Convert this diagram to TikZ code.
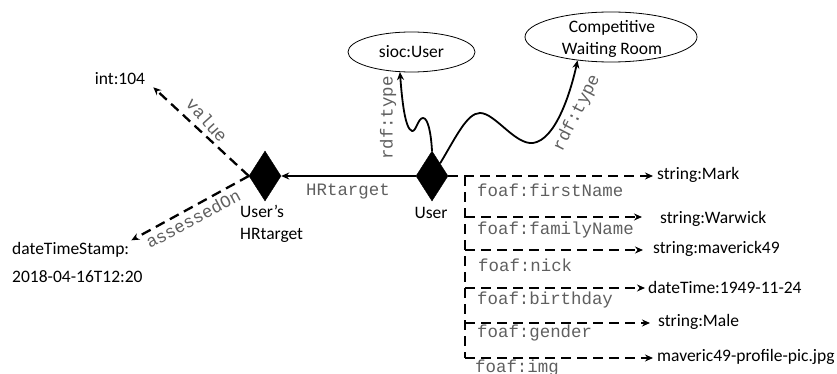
\documentclass[tikz,border=0pt]{standalone}
\usepackage{fontspec}
\setmainfont{Carlito}
\setmonofont{Liberation Mono}
\usetikzlibrary{shapes.geometric,arrows.meta}
\definecolor{propgrey}{RGB}{95,95,95}

\begin{document}
\begin{tikzpicture}[x=1pt,y=-1pt,
  every node/.style={font=\fontsize{17.5}{22}\selectfont, inner sep=2pt},
  prop/.style={font=\fontsize{17.4}{20}\selectfont\ttfamily, text=propgrey, inner sep=0pt},
  hub/.style={diamond, fill=black, draw=black, minimum width=32pt, minimum height=50pt, inner sep=0pt},
  cls/.style={ellipse, draw, line width=0.8pt, inner sep=0pt},
  link/.style={line width=1.8pt, -{Stealth[length=8pt,width=7pt]}},
  dlink/.style={link, line width=2.3pt, dash pattern=on 10pt off 6pt},
  trunk/.style={line width=2.3pt, dash pattern=on 10pt off 6pt},
]
\useasboundingbox (0,0) rectangle (837,374);

% resources
\node[hub] (user) at (432,176) {};
\node at (431,213) {User};
\node[hub] (hr) at (265,176) {};
\node[align=left, anchor=west] (hrlab) at (238,224) {User’s\\HRtarget};

% classes
\node[cls, minimum width=127pt, minimum height=40pt] (sioc) at (411.5,52) {sioc:User};
\node[cls, minimum width=172pt, minimum height=50pt] (cwr) at (611,37) {};
\node[align=center] (cwrtext) at (612,39) {Competitive\\Waiting Room};

% literals
\node (int) at (120,79) {int:104};
\node[anchor=west] (dts) at (10,250) {dateTimeStamp:};
\node[anchor=west] (dtsval) at (10,277) {2018-04-16T12:20};

\node[anchor=west] (t1) at (655,175) {string:Mark};
\node[anchor=west] (t2) at (658,219) {string:Warwick};
\node[anchor=west] (t3) at (651,249) {string:maverick49};
\node[anchor=west] (t4) at (646,287) {dateTime:1949-11-24};
\node[anchor=west] (t5) at (656,322) {string:Male};
\node[anchor=west] (t6) at (655,357) {maveric49-profile-pic.jpg};

% rdf:type links
\draw[link] (user.north) .. controls (431,133) and (428,118) .. (423,118)
  .. controls (418,118) and (416,132) .. (412,131)
  .. controls (405,129) and (402,100) .. (sioc.240);
\draw[link] (user.north east) .. controls (456,137) and (467,113) .. (480,113)
  .. controls (495,113) and (515,145) .. (533,143)
  .. controls (555,140) and (570,95) .. (cwr.215);
\node[prop, rotate=90] at (388,118) {rdf:type};
\node[prop, rotate=63] at (577,113) {rdf:type};

% HRtarget link
\draw[link] (user.west) -- (hr.east);
\node[prop] at (348,192) {HRtarget};

% target properties
\draw[dlink] (hr.west) -- ([xshift=6pt]int.south east);
\node[prop, rotate=-48] at (207,120) {value};
\draw[dlink] (hr.west) -- (dts.north east);
\node[prop, rotate=28] at (193,219) {assessedOn};

% user profile properties
\coordinate (j1) at (465,176);
\coordinate (j2) at (465,217);
\coordinate (j3) at (465,250);
\coordinate (j4) at (465,288);
\coordinate (j5) at (465,323);
\coordinate (j6) at (465,358);
\draw[trunk] (j1) -- (j6);
\draw[dlink] (user.east) -- ([xshift=-2pt]t1.west |- user.east);
\draw[dlink] (j2) -- ([xshift=-16pt]t2.west |- j2);
\draw[dlink] (j3) -- ([xshift=-8pt]t3.west |- j3);
\draw[dlink] (j4) -- ([xshift=-1pt]t4.west |- j4);
\draw[dlink] (j5) -- ([xshift=-6pt]t5.west |- j5);
\draw[dlink] (j6) -- ([xshift=-2pt]t6.west |- j6);

\node[prop, anchor=west] at (477,190) {foaf:firstName};
\node[prop, anchor=west] at (477,230) {foaf:familyName};
\node[prop, anchor=west] at (478,265) {foaf:nick};
\node[prop, anchor=west] at (477,300) {foaf:birthday};
\node[prop, anchor=west] at (477,333) {foaf:gender};
\node[prop, anchor=west] at (475,368) {foaf:img};
\end{tikzpicture}
\end{document}
